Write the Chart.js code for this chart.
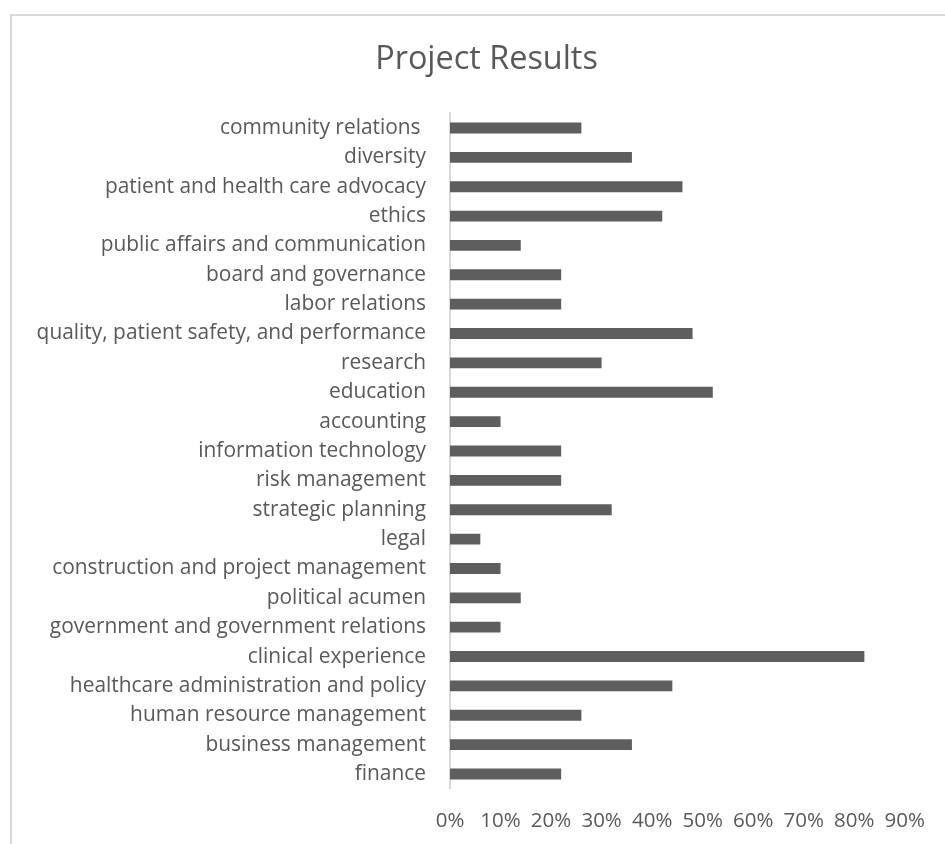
<!DOCTYPE html>
<html>
<head>
<meta charset="utf-8">
<script src="https://cdn.jsdelivr.net/npm/chart.js@4/dist/chart.umd.min.js"></script>
<style>
  html, body { margin: 0; padding: 0; background: #fff; overflow: hidden; }
  #frame {
    position: absolute; left: 10px; top: 14px;
    width: 953px; height: 900px;
    border: 2px solid #d9d9d9; box-sizing: border-box;
  }
  #wrap { position: absolute; left: 0; top: 0; width: 945px; height: 844px; }
</style>
</head>
<body>
<div id="frame"></div>
<div id="wrap"><canvas id="chart" width="945" height="844"></canvas></div>
<script>
// Survey areas, listed top to bottom as they appear on the chart
const categories = [
  'community relations ',
  'diversity',
  'patient and health care advocacy',
  'ethics',
  'public affairs and communication',
  'board and governance',
  'labor relations',
  'quality, patient safety, and performance',
  'research',
  'education',
  'accounting',
  'information technology',
  'risk management',
  'strategic planning',
  'legal',
  'construction and project management',
  'political acumen',
  'government and government relations',
  'clinical experience',
  'healthcare administration and policy',
  'human resource management',
  'business management',
  'finance'
];

// Share of responses per area, in percent
const shares = [26, 36, 46, 42, 14, 22, 22, 48, 30, 52, 10, 22, 22, 32, 6, 10, 14, 10, 82, 44, 26, 36, 22];

// Value axis ticks
const axisMin = 0;
const axisMax = 90;
const axisStep = 10;

const titleText = 'Project Results';
const textColor = '#595959';
const fontFamily = '"Open Sans", "DejaVu Sans", sans-serif';

// The title is centred over the whole framed chart box, not just the canvas
const frameEl = document.getElementById('frame');
const centreTitleOnFrame = {
  id: 'centreTitleOnFrame',
  afterLayout(chart) {
    const tb = chart.titleBlock;
    if (!tb) return;
    tb.left = frameEl.offsetLeft;
    tb.right = frameEl.offsetLeft + frameEl.offsetWidth;
  }
};

new Chart(document.getElementById('chart'), {
  type: 'bar',
  data: {
    labels: categories,
    datasets: [{
      data: shares,
      backgroundColor: '#5e5e5e',
      borderWidth: 0,
      categoryPercentage: 1,
      barPercentage: 0.37
    }]
  },
  plugins: [centreTitleOnFrame],
  options: {
    indexAxis: 'y',
    responsive: false,
    animation: false,
    layout: { padding: { left: 0, right: 39, top: 0, bottom: 0 } },
    plugins: {
      legend: { display: false },
      tooltip: { enabled: false },
      title: {
        display: true,
        text: titleText,
        color: textColor,
        font: { family: fontFamily, size: 32.4, weight: '400', lineHeight: 1.2 },
        padding: { top: 40.5, bottom: 33.9 }
      }
    },
    scales: {
      x: {
        min: axisMin,
        max: axisMax,
        grid: { display: false, drawTicks: false, tickLength: 0 },
        border: { display: false },
        ticks: {
          stepSize: axisStep,
          color: textColor,
          padding: 20,
          maxRotation: 0,
          font: { family: fontFamily, size: 20.5 },
          callback: v => v + '%'
        },
        afterFit: s => { s.height = 55.3; }
      },
      y: {
        grid: { display: false, drawTicks: false, tickLength: 0 },
        border: { display: true, color: '#d9d9d9', width: 2 },
        ticks: {
          color: textColor,
          padding: 24,
          autoSkip: false,
          font: { family: fontFamily, size: 20.9 }
        },
        afterFit: s => { s.width = 450; }
      }
    }
  }
});
</script>
</body>
</html>
